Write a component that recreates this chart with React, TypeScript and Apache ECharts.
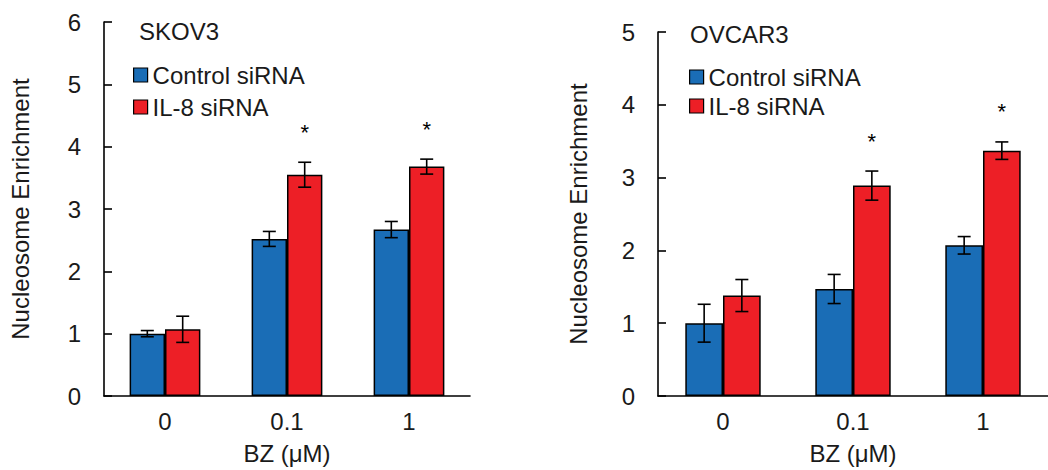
import React, { useEffect, useRef } from 'react';
import * as echarts from 'echarts';

const categories = ['0', '0.1', '1'];
const seriesNames = ['Control siRNA', 'IL-8 siRNA'];

const skovControl = [1.0, 2.52, 2.67];
const skovControlErr = [0.05, 0.12, 0.13];
const skovIL8 = [1.07, 3.55, 3.68];
const skovIL8Err = [0.21, 0.2, 0.12];
const skovSig = ['', '*', '*'];

const ovcarControl = [1.0, 1.47, 2.07];
const ovcarControlErr = [0.26, 0.2, 0.12];
const ovcarIL8 = [1.38, 2.89, 3.37];
const ovcarIL8Err = [0.22, 0.2, 0.12];
const ovcarSig = ['', '*', '*'];

const BLUE = '#1a6db6';
const RED = '#ed1f26';
const FONT = '"Liberation Sans", Arial, sans-serif';
const GAP = 0.42;
const FS = 24;

function errRender(side: number, sig: string[] | null) {
  return (params: any, api: any) => {
    const idx = api.value(0);
    const val = api.value(1);
    const err = api.value(2);
    const band = api.size([1, 0])[0];
    const barW = (band * (1 - GAP)) / 2;
    const c = api.coord([idx, val]);
    const x = c[0] + (side * barW) / 2;
    const top = api.coord([idx, val + err])[1];
    const bot = api.coord([idx, val - err])[1];
    const cap = 6.5;
    const ls = { stroke: '#000', lineWidth: 1.6 };
    const children: any[] = [
      { type: 'line', shape: { x1: x, y1: top, x2: x, y2: bot }, style: ls },
      { type: 'line', shape: { x1: x - cap, y1: top, x2: x + cap, y2: top }, style: ls },
      { type: 'line', shape: { x1: x - cap, y1: bot, x2: x + cap, y2: bot }, style: ls },
    ];
    const s = sig ? sig[params.dataIndex] : '';
    if (s) {
      children.push({
        type: 'text',
        style: {
          text: s,
          x,
          y: top - 30,
          fill: '#000',
          font: `normal 22px ${FONT}`,
          align: 'center',
          verticalAlign: 'middle',
        },
      });
    }
    return { type: 'group', children };
  };
}

function barSeries(name: string, color: string, data: number[], idx: number) {
  return {
    name,
    type: 'bar',
    xAxisIndex: idx,
    yAxisIndex: idx,
    data,
    barGap: '0%',
    barCategoryGap: `${GAP * 100}%`,
    itemStyle: { color, borderColor: '#000', borderWidth: 1.5 },
  };
}

function errSeries(vals: number[], errs: number[], side: number, sig: string[] | null, idx: number) {
  return {
    type: 'custom',
    xAxisIndex: idx,
    yAxisIndex: idx,
    z: 5,
    clip: false,
    encode: { x: 0, y: 1 },
    data: vals.map((v, i) => [i, v, errs[i]]),
    renderItem: errRender(side, sig),
    silent: true,
  };
}

const axisLabelStyle = { color: '#1a1a1a', fontSize: FS, fontFamily: FONT };

function yAxis(idx: number, max: number, nameGap: number) {
  return {
    type: 'value',
    gridIndex: idx,
    min: 0,
    max,
    interval: 1,
    name: 'Nucleosome Enrichment',
    nameLocation: 'middle',
    nameRotate: 90,
    nameGap,
    nameTextStyle: { color: '#1a1a1a', fontSize: FS, fontFamily: FONT },
    axisLine: { show: true, lineStyle: { color: '#000', width: 1.6 } },
    axisTick: { show: true, inside: true, length: 8, lineStyle: { color: '#000', width: 1.6 } },
    axisLabel: { ...axisLabelStyle, margin: 23 },
    splitLine: { show: false },
  };
}

function xAxis(idx: number) {
  return {
    type: 'category',
    gridIndex: idx,
    data: categories,
    name: 'BZ (μM)',
    nameLocation: 'middle',
    nameGap: 45,
    nameTextStyle: { color: '#1a1a1a', fontSize: FS, fontFamily: FONT },
    axisLine: { show: true, lineStyle: { color: '#000', width: 1.6 } },
    axisTick: { show: false },
    axisLabel: { ...axisLabelStyle, margin: 13 },
  };
}

function legend(left: number, top: number, gap: number) {
  return {
    orient: 'vertical',
    left,
    top,
    itemGap: gap,
    itemWidth: 14,
    itemHeight: 14,
    icon: 'rect',
    data: seriesNames,
    textStyle: { color: '#1a1a1a', fontSize: FS, fontFamily: FONT },
    itemStyle: { borderColor: '#000', borderWidth: 1.2 },
    selectedMode: false,
  };
}

export default function App() {
  const ref = useRef<HTMLDivElement>(null);
  useEffect(() => {
    if (!ref.current) return;
    const chart = echarts.init(ref.current, null, { renderer: 'svg' });
    chart.setOption({
      animation: false,
      backgroundColor: '#fff',
      textStyle: { fontFamily: FONT },
      title: [
        { text: 'SKOV3', left: 134, top: 14, textStyle: { color: '#1a1a1a', fontSize: FS, fontWeight: 'normal', fontFamily: FONT } },
        { text: 'OVCAR3', left: 685, top: 17, textStyle: { color: '#1a1a1a', fontSize: FS, fontWeight: 'normal', fontFamily: FONT } },
      ],
      legend: [legend(128, 58, 8), legend(684, 60, 5)],
      grid: [
        { left: 104, top: 22, width: 366, bottom: 68, containLabel: false },
        { left: 658, top: 32, width: 399, bottom: 67, containLabel: false },
      ],
      xAxis: [xAxis(0), xAxis(1)],
      yAxis: [yAxis(0, 6, 72), yAxis(1, 5, 68)],
      series: [
        barSeries(seriesNames[0], BLUE, skovControl, 0),
        barSeries(seriesNames[1], RED, skovIL8, 0),
        errSeries(skovControl, skovControlErr, -1, null, 0),
        errSeries(skovIL8, skovIL8Err, 1, skovSig, 0),
        barSeries(seriesNames[0], BLUE, ovcarControl, 1),
        barSeries(seriesNames[1], RED, ovcarIL8, 1),
        errSeries(ovcarControl, ovcarControlErr, -1, null, 1),
        errSeries(ovcarIL8, ovcarIL8Err, 1, ovcarSig, 1),
      ],
    });
    return () => chart.dispose();
  }, []);
  return (
    <div
      ref={ref}
      style={{ position: 'fixed', left: 0, top: 0, width: 1048, height: 470, overflow: 'hidden', background: '#fff' }}
    />
  );
}
